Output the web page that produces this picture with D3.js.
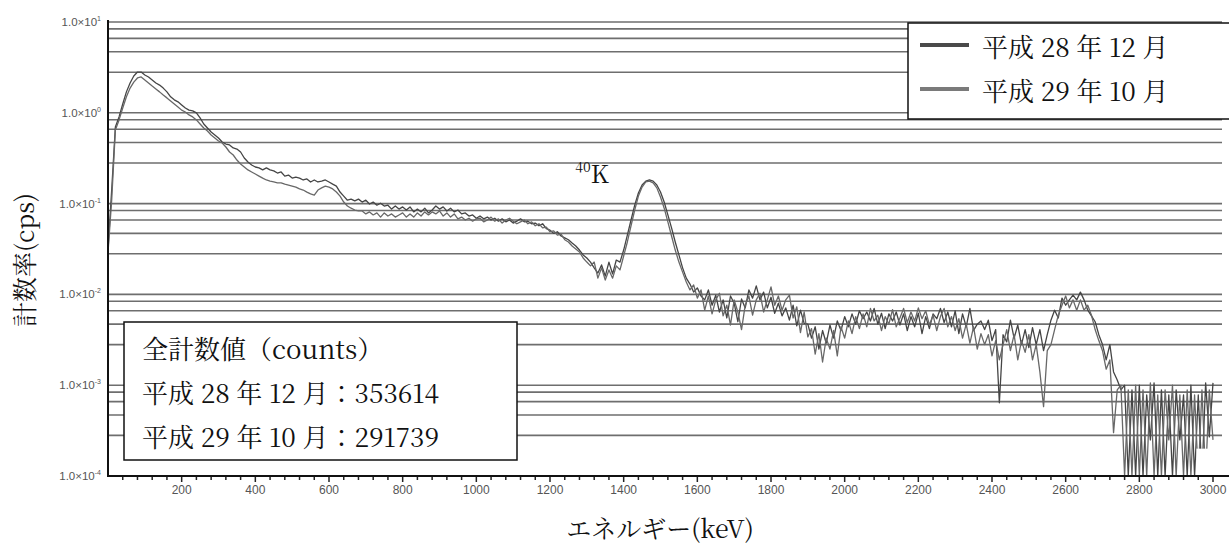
<!DOCTYPE html>
<html>
<head>
<meta charset="utf-8">
<script src="https://cdn.jsdelivr.net/npm/d3@7"></script>
<style>
  html, body { margin: 0; padding: 0; background: #fff; }
  svg { display: block; }
</style>
</head>
<body>
<svg id="chart" width="1229" height="545"></svg>
<script>
// ---------------- DATA ----------------
// channel energies (keV): 0 .. 3000, 10 keV per channel
const energyStart = 0;
const energyStep = 10;

// 平成28年12月 (cps)
const seriesH28 = [
  0.0308, 0.141, 0.698, 0.901, 1.25, 1.70, 2.13, 2.54, 2.81, 2.81,
  2.61, 2.48, 2.30, 2.13, 2.02, 1.87, 1.70, 1.50, 1.39, 1.32,
  1.22, 1.13, 1.07, 1.05, 0.997, 0.878, 0.753, 0.680, 0.615, 0.570,
  0.528, 0.477, 0.453, 0.442, 0.410, 0.399, 0.370, 0.318, 0.287, 0.266,
  0.253, 0.247, 0.235, 0.247, 0.235, 0.229, 0.217, 0.223, 0.201, 0.206,
  0.191, 0.196, 0.191, 0.182, 0.187, 0.173, 0.182, 0.173, 0.177, 0.182,
  0.173, 0.164, 0.156, 0.134, 0.121, 0.109, 0.112, 0.107, 0.112, 0.104,
  0.109, 0.099, 0.104, 0.096, 0.101, 0.094, 0.096, 0.087, 0.094, 0.087,
  0.092, 0.085, 0.092, 0.081, 0.087, 0.081, 0.089, 0.079, 0.085, 0.094,
  0.087, 0.092, 0.083, 0.089, 0.081, 0.085, 0.077, 0.079, 0.073, 0.075,
  0.069, 0.073, 0.068, 0.071, 0.066, 0.069, 0.064, 0.068, 0.063, 0.066,
  0.061, 0.064, 0.068, 0.063, 0.064, 0.060, 0.061, 0.057, 0.060, 0.053,
  0.051, 0.047, 0.049, 0.044, 0.042, 0.040, 0.0368, 0.0341, 0.0308, 0.0272,
  0.0252, 0.0227, 0.0196, 0.0172, 0.0211, 0.0159, 0.0227, 0.0168, 0.0239, 0.0227,
  0.0308, 0.045, 0.066, 0.096, 0.131, 0.160, 0.177, 0.182, 0.177, 0.160,
  0.134, 0.104, 0.075, 0.054, 0.0378, 0.0272, 0.0196, 0.0151, 0.0130, 0.0106,
  0.0118, 0.0096, 0.0087, 0.0112, 0.0076, 0.0098, 0.0064, 0.0087, 0.0055, 0.0096,
  0.0080, 0.0050, 0.0089, 0.0071, 0.0112, 0.0091, 0.0124, 0.0087, 0.0106, 0.0071,
  0.0093, 0.0062, 0.0080, 0.0058, 0.0071, 0.0052, 0.0076, 0.0045, 0.0067, 0.0048,
  0.0047, 0.0033, 0.0044, 0.0025, 0.0040, 0.0029, 0.0046, 0.0033, 0.0051, 0.0040,
  0.0057, 0.0044, 0.0061, 0.0047, 0.0066, 0.0054, 0.0064, 0.0051, 0.0070, 0.0047,
  0.0062, 0.0042, 0.0061, 0.0051, 0.0064, 0.0046, 0.0061, 0.0040, 0.0057, 0.0044,
  0.0062, 0.0037, 0.0057, 0.0042, 0.0061, 0.0054, 0.0070, 0.0049, 0.0064, 0.0044,
  0.0066, 0.0037, 0.0061, 0.0044, 0.0070, 0.0040, 0.0047, 0.0051, 0.0041, 0.0052,
  0.0031, 0.0041, 0.00064, 0.0036, 0.0030, 0.0052, 0.0033, 0.0046, 0.0028, 0.0041,
  0.0026, 0.0043, 0.0028, 0.0041, 0.0024, 0.0036, 0.0052, 0.0067, 0.0055, 0.0091,
  0.0076, 0.0087, 0.0098, 0.0087, 0.0106, 0.0087, 0.0067, 0.0058, 0.0050, 0.0036,
  0.0028, 0.0019, 0.0028, 0.0014, 0.00114, 0.00089, 0.00100, 0.0001, 0.00089, 0.0001,
  0.00100, 0.0001, 0.00078, 0.00025, 0.00106, 0.0001, 0.00089, 0.0001, 0.00078, 0.0001,
  0.00089, 0.00025, 0.00078, 0.0001, 0.00100, 0.0001, 0.00078, 0.0001, 0.00106, 0.00027,
  0.00106
];

// 平成29年10月 (cps)
const seriesH29 = [
  0.0290, 0.109, 0.647, 0.835, 1.13, 1.50, 1.87, 2.18, 2.42, 2.48,
  2.30, 2.13, 1.97, 1.83, 1.70, 1.57, 1.46, 1.35, 1.25, 1.16,
  1.07, 1.02, 0.948, 0.901, 0.835, 0.753, 0.680, 0.630, 0.570, 0.528,
  0.489, 0.465, 0.420, 0.370, 0.343, 0.302, 0.273, 0.253, 0.235, 0.223,
  0.212, 0.201, 0.191, 0.182, 0.177, 0.173, 0.169, 0.169, 0.164, 0.160,
  0.156, 0.152, 0.145, 0.141, 0.134, 0.128, 0.124, 0.141, 0.149, 0.156,
  0.152, 0.145, 0.134, 0.121, 0.104, 0.094, 0.089, 0.085, 0.083, 0.083,
  0.077, 0.081, 0.075, 0.079, 0.071, 0.079, 0.073, 0.077, 0.071, 0.075,
  0.079, 0.071, 0.077, 0.071, 0.079, 0.073, 0.081, 0.075, 0.081, 0.077,
  0.083, 0.073, 0.079, 0.071, 0.077, 0.068, 0.071, 0.066, 0.069, 0.064,
  0.068, 0.069, 0.063, 0.066, 0.071, 0.064, 0.068, 0.061, 0.066, 0.069,
  0.064, 0.060, 0.063, 0.066, 0.060, 0.063, 0.057, 0.060, 0.054, 0.055,
  0.049, 0.050, 0.045, 0.046, 0.040, 0.0378, 0.0341, 0.0316, 0.0293, 0.0252,
  0.0227, 0.0206, 0.0227, 0.0151, 0.0196, 0.0144, 0.0186, 0.0151, 0.0206, 0.0186,
  0.0265, 0.0378, 0.057, 0.085, 0.121, 0.152, 0.173, 0.177, 0.169, 0.149,
  0.118, 0.089, 0.063, 0.044, 0.0308, 0.0227, 0.0176, 0.0137, 0.0112, 0.0127,
  0.0091, 0.0112, 0.0067, 0.0096, 0.0061, 0.0087, 0.0103, 0.0058, 0.0076, 0.0046,
  0.0087, 0.0064, 0.0041, 0.0076, 0.0096, 0.0059, 0.0087, 0.0103, 0.0064, 0.0087,
  0.0121, 0.0076, 0.0096, 0.0067, 0.0087, 0.0098, 0.0055, 0.0073, 0.0038, 0.0064,
  0.0034, 0.0042, 0.0022, 0.0037, 0.0018, 0.0033, 0.0025, 0.0040, 0.0021, 0.0044,
  0.0033, 0.0051, 0.0037, 0.0057, 0.0042, 0.0061, 0.0044, 0.0070, 0.0051, 0.0059,
  0.0040, 0.0057, 0.0047, 0.0068, 0.0044, 0.0055, 0.0070, 0.0049, 0.0064, 0.0051,
  0.0071, 0.0054, 0.0066, 0.0046, 0.0059, 0.0040, 0.0057, 0.0070, 0.0044, 0.0057,
  0.0040, 0.0054, 0.0033, 0.0047, 0.0029, 0.0044, 0.0025, 0.0037, 0.0028, 0.0036,
  0.0021, 0.0031, 0.0019, 0.0028, 0.0041, 0.0024, 0.0036, 0.0019, 0.0031, 0.0023,
  0.0036, 0.0019, 0.0028, 0.0014, 0.00058, 0.0024, 0.0028, 0.0041, 0.0059, 0.0076,
  0.0096, 0.0071, 0.0087, 0.0067, 0.0087, 0.0067, 0.0076, 0.0059, 0.0041, 0.0031,
  0.0024, 0.0015, 0.0019, 0.00030, 0.00089, 0.0010, 0.0001, 0.00089, 0.0001, 0.0010,
  0.0001, 0.00089, 0.0001, 0.00106, 0.0001, 0.00078, 0.0001, 0.00089, 0.00025, 0.0010,
  0.0001, 0.00078, 0.0001, 0.00089, 0.0001, 0.00078, 0.0001, 0.00089, 0.0001, 0.00089,
  0.00025
];

const seriesNames = ["平成 28 年 12 月", "平成 29 年 10 月"];
const xTickLabels = [200, 400, 600, 800, 1000, 1200, 1400, 1600, 1800, 2000, 2200, 2400, 2600, 2800, 3000];
const yDecadeExponents = [1, 0, -1, -2, -3, -4];
const gridMultipliers = [1, 2.8, 4.7, 6.6, 8.4];
const countsTitle = "全計数値（counts）";
const countsLines = ["平成 28 年 12 月：353614", "平成 29 年 10 月：291739"];
const peakLabel = { iso: "40", el: "K", energy: 1320 };
const xTitle = "エネルギー(keV)";
const yTitle = "計数率(cps)";

// ---------------- DRAW ----------------
const svg = d3.select("#chart");
const serif = "'Noto Serif CJK JP', 'Liberation Serif', 'DejaVu Serif', 'Noto Sans CJK JP', serif";
const sans = "'Liberation Sans', Arial, sans-serif";

const x = d3.scaleLinear().domain([0, 3000]).range([108, 1213]);
const y = d3.scaleLog().domain([1e-4, 10]).range([476, 22]);

const energies = seriesH28.map((_, i) => energyStart + i * energyStep);

// grid lines
const gridVals = [];
for (let k = -4; k <= 0; k++) gridMultipliers.forEach(m => gridVals.push(m * Math.pow(10, k)));
gridVals.push(10);
svg.append("g").selectAll("line")
  .data(gridVals.filter(v => v > 1.0001e-4))
  .join("line")
  .attr("x1", 108).attr("x2", 1222)
  .attr("y1", d => y(d)).attr("y2", d => y(d))
  .attr("stroke", "#6e6e6e").attr("stroke-width", 1.6);

// spectra
const line = d3.line()
  .x((d, i) => x(energies[i]))
  .y(d => y(Math.max(d, 1e-4)));
const colors = ["#454545", "#686868"];
[seriesH28, seriesH29].forEach((s, k) => {
  svg.append("path").datum(s)
    .attr("d", line)
    .attr("fill", "none")
    .attr("stroke", colors[k])
    .attr("stroke-width", 1.3)
    .attr("stroke-linejoin", "round");
});

// white patch at bottom right
svg.append("rect")
  .attr("x", x(2955)).attr("y", y(2e-4))
  .attr("width", 1229 - x(2955)).attr("height", y(1e-4) - y(2e-4))
  .attr("fill", "#fff");

// 40K label
const pk = svg.append("text")
  .attr("x", x(peakLabel.energy) - 19).attr("y", 183)
  .attr("font-family", serif).attr("fill", "#111");
pk.append("tspan").attr("font-size", 14).attr("dy", -11).text(peakLabel.iso);
pk.append("tspan").attr("font-size", 25).attr("dy", 11).text(peakLabel.el);

// legend
const lg = svg.append("g");
lg.append("rect").attr("x", 908).attr("y", 23).attr("width", 330).attr("height", 96)
  .attr("fill", "#fff").attr("stroke", "#111").attr("stroke-width", 1.5);
seriesNames.forEach((name, i) => {
  const yy = 45 + i * 44;
  lg.append("line").attr("x1", 920).attr("x2", 969).attr("y1", yy).attr("y2", yy)
    .attr("stroke", i === 0 ? "#4a4a4a" : "#7a7a7a").attr("stroke-width", 4);
  lg.append("text").attr("x", 982).attr("y", yy).attr("dominant-baseline", "central")
    .attr("font-family", serif).attr("font-size", 26).attr("fill", "#111").text(name);
});

// counts box
const cb = svg.append("g");
cb.append("rect").attr("x", 124).attr("y", 322).attr("width", 393).attr("height", 138)
  .attr("fill", "#fff").attr("stroke", "#111").attr("stroke-width", 1.5);
[countsTitle].concat(countsLines).forEach((t, i) => {
  cb.append("text").attr("x", 142).attr("y", 347 + i * 44).attr("dominant-baseline", "central")
    .attr("font-family", serif).attr("font-size", 26).attr("fill", "#111").text(t);
});

// x axis ticks
const minorTicks = d3.range(40, 3001, 40);
svg.append("g").selectAll("line").data(minorTicks).join("line")
  .attr("x1", d => x(d)).attr("x2", d => x(d))
  .attr("y1", 476).attr("y2", d => d % 200 === 0 ? 482 : 480)
  .attr("stroke", "#222").attr("stroke-width", 1.5);
svg.append("g").selectAll("text").data(xTickLabels).join("text")
  .attr("x", d => x(d)).attr("y", 490)
  .attr("text-anchor", "middle").attr("dominant-baseline", "central")
  .attr("font-family", sans).attr("font-size", 12).attr("fill", "#555")
  .text(d => d);

// axes lines
svg.append("line").attr("x1", 108).attr("x2", 1229).attr("y1", 476).attr("y2", 476)
  .attr("stroke", "#111").attr("stroke-width", 2);
svg.append("line").attr("x1", 108).attr("x2", 108).attr("y1", 20).attr("y2", 477)
  .attr("stroke", "#111").attr("stroke-width", 2);

// y tick labels
yDecadeExponents.forEach(e => {
  const t = svg.append("text").attr("x", 101).attr("y", y(Math.pow(10, e)) + 4)
    .attr("text-anchor", "end").attr("font-family", sans).attr("font-size", 11.5).attr("fill", "#555");
  t.append("tspan").text("1.0×10");
  t.append("tspan").attr("font-size", 7).attr("dy", -5).text(e);
});

// axis titles
svg.append("text").attr("x", 660).attr("y", 527).attr("text-anchor", "middle")
  .attr("dominant-baseline", "central")
  .attr("font-family", serif).attr("font-size", 25).attr("fill", "#111").text(xTitle);
svg.append("text").attr("transform", "translate(23,260) rotate(-90)")
  .attr("text-anchor", "middle").attr("dominant-baseline", "central")
  .attr("font-family", serif).attr("font-size", 25).attr("fill", "#111").text(yTitle);
</script>
</body>
</html>
